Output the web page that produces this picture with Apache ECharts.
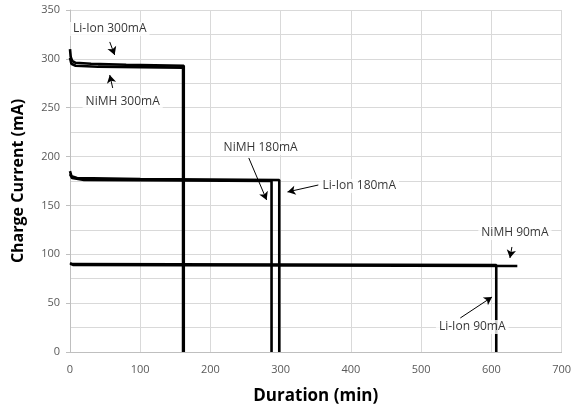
<!DOCTYPE html>
<html><head><meta charset="utf-8">
<script src="https://cdn.jsdelivr.net/npm/echarts@6/dist/echarts.min.js"></script>
<style>html,body{margin:0;padding:0;background:#fff}#c{width:574px;height:415px}</style>
</head><body><div id="c"></div>
<script>
// Data (duration min, current mA)
var seriesNames = ["Li-Ion 300mA","NiMH 300mA","Li-Ion 180mA","NiMH 180mA","Li-Ion 90mA","NiMH 90mA"];
var liIon300 = [[0,310],[1,302],[3,298],[8,296],[30,295],[80,294],[162,293],[162,0]];
var nimh300  = [[0,301],[2,295],[8,293],[40,292],[161,291],[161,0]];
var liIon180 = [[0,185],[2,180],[10,178],[100,177],[298,176],[298,0]];
var nimh180  = [[0,182],[3,178],[20,176],[287,175],[287,0]];
var liIon90  = [[0,90],[607,89],[607,0]];
var nimh90   = [[0,91],[5,89],[637,88]];
var xTicks = [0,100,200,300,400,500,600,700];
var yTicks = [0,50,100,150,200,250,300,350];
// annotations: label text anchor and arrow (tail -> head), in data units
var annLabels = [
  ["Li-Ion 300mA",[56.6,330.6]],
  ["NiMH 300mA",[75,255.9]],
  ["NiMH 180mA",[271.5,208.8]],
  ["Li-Ion 180mA",[412,169.9]],
  ["NiMH 90mA",[633.6,121.8]],
  ["Li-Ion 90mA",[572.8,25.6]]
];
var annArrows = [
  [[56.6,317.3],[63.6,304.0]],
  [[60.8,270.2],[56.6,283.5]],
  [[254.6,198.6],[280,155.6]],
  [[353.6,170.9],[309.7,163.8]],
  [[629.3,107.5],[626.5,96.2]],
  [[555.8,34.8],[601,56.3]]
];

var allData = [liIon300,nimh300,liIon180,nimh180,liIon90,nimh90];
var font = "'Open Sans', 'Liberation Sans', sans-serif";
var series = [];
allData.forEach(function(d,i){
  series.push({name:seriesNames[i],type:'line',data:d,symbol:'none',
    lineStyle:{color:'#000',width:2.6},z:3,silent:true});
});
series.push({
  type:'scatter',data:annLabels.map(function(a){return {value:a[1],name:a[0]};}),
  symbolSize:0.01,silent:true,z:5,
  label:{show:true,position:'inside',formatter:function(p){return p.name;},
    color:'#000',fontSize:12,fontFamily:font,backgroundColor:'#fff',padding:[1,3]}
});
series.push({
  type:'line',data:[],silent:true,z:4,
  markLine:{silent:true,symbol:['none','arrow'],symbolSize:[7,8],animation:false,
    label:{show:false},
    lineStyle:{color:'#000',width:1,type:'solid'},
    data:annArrows.map(function(a){return [{coord:a[0]},{coord:a[1]}];})}
});

var chart = echarts.init(document.getElementById('c'));
chart.setOption({
  animation:false,
  grid:{left:70,right:9,top:10,bottom:63,containLabel:false},
  xAxis:{type:'value',min:xTicks[0],max:xTicks[xTicks.length-1],interval:100,
    name:'Duration (min)',nameLocation:'middle',nameGap:36,
    nameTextStyle:{fontSize:17,fontWeight:'bold',color:'#000',fontFamily:font},
    axisLine:{show:true,lineStyle:{color:'#bfbfbf'}},
    axisTick:{show:false},
    axisLabel:{color:'#595959',fontSize:11,fontFamily:font,margin:12},
    splitLine:{show:true,lineStyle:{color:'#d9d9d9'}}},
  yAxis:[{type:'value',min:yTicks[0],max:yTicks[yTicks.length-1],interval:50,
    name:'Charge Current (mA)',nameLocation:'middle',nameGap:44,
    nameTextStyle:{fontSize:16,fontWeight:'bold',color:'#000',fontFamily:font},
    axisLine:{show:true,lineStyle:{color:'#bfbfbf'}},
    axisTick:{show:true,length:4,lineStyle:{color:'#bfbfbf'}},
    axisLabel:{color:'#595959',fontSize:11,fontFamily:font,margin:10},
    splitLine:{show:true,lineStyle:{color:'#d9d9d9'}}},
   {type:'value',position:'left',min:yTicks[0],max:yTicks[yTicks.length-1],interval:25,
    axisLine:{show:false},axisTick:{show:false},axisLabel:{show:false},
    splitLine:{show:true,lineStyle:{color:'#d9d9d9',width:1}}}],
  series:series
});
</script></body></html>
